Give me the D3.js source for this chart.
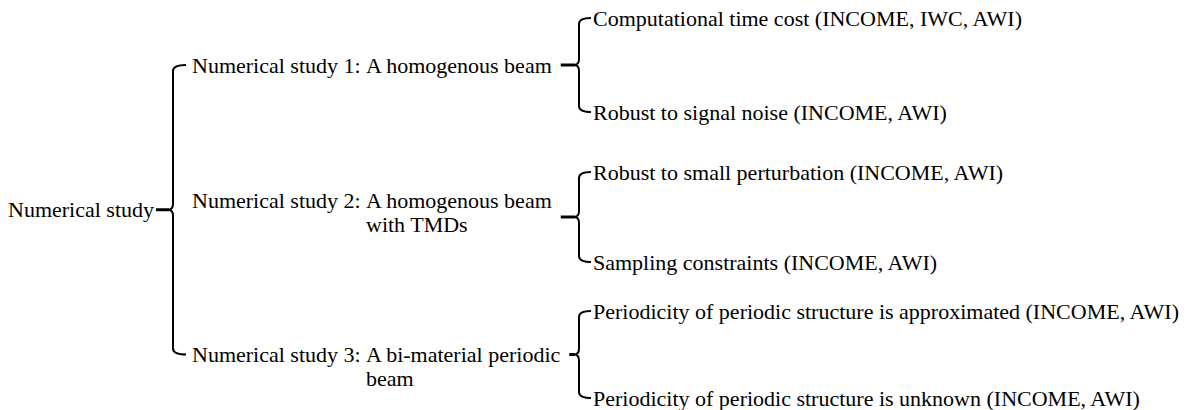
<!DOCTYPE html>
<html>
<head>
<meta charset="utf-8">
<script src="https://cdn.jsdelivr.net/npm/d3@7"></script>
<style>
  body { margin: 0; background: #fff; }
  text { font-family: "Liberation Serif", "Times New Roman", serif; fill: #000; }
</style>
</head>
<body>
<div id="tree"></div>
<script>
// diagram content
const rootLabel = "Numerical study";
const studyPrefixes = ["Numerical study 1:", "Numerical study 2:", "Numerical study 3:"];
const studyDescriptions = [
    ["A homogenous beam"],
    ["A homogenous beam", "with TMDs"],
    ["A bi-material periodic", "beam"]
];
const outcomes = [
    ["Computational time cost (INCOME, IWC, AWI)", "Robust to signal noise (INCOME, AWI)"],
    ["Robust to small perturbation (INCOME, AWI)", "Sampling constraints (INCOME, AWI)"],
    ["Periodicity of periodic structure is approximated (INCOME, AWI)", "Periodicity of periodic structure is unknown (INCOME, AWI)"]
];

const width = 1191;
const height = 410;
const fontSize = 22;
const lineGap = 24;

// vertical extent of each outcome group (top leaf, bottom leaf)
const groupSpans = [[18, 112], [172, 262], [311, 398]];
// where the first line of each study label sits relative to its stub
const firstLineShift = [0, -17, 0];

// x positions of the columns
const xRootText = 8, xRootBrace = 173;
const xStudyText = 192, xStudyDesc = 366, xLeafBrace = 579, xLeafText = 593;

const svg = d3.select("#tree").append("svg")
    .attr("width", width)
    .attr("height", height);

// a curly brace: vertical at x, from top to bottom, cusp pointing left at mid
function brace(x, top, bottom, mid, arm) {
    const r = 6;
    const p = d3.path();
    p.moveTo(x + arm, top);
    p.quadraticCurveTo(x, top, x, top + r);
    p.lineTo(x, mid - r);
    p.quadraticCurveTo(x, mid, x - 5, mid);
    p.quadraticCurveTo(x, mid, x, mid + r);
    p.lineTo(x, bottom - r);
    p.quadraticCurveTo(x, bottom, x + arm, bottom);
    return p.toString();
}

const studyY = groupSpans.map(s => (s[0] + s[1]) / 2);
const rootY = (studyY[0] + studyY[studyY.length - 1]) / 2;

// root
svg.append("text")
    .attr("x", xRootText)
    .attr("y", rootY)
    .attr("dy", "0.35em")
    .style("font-size", fontSize + "px")
    .text(rootLabel);

svg.append("line")
    .attr("x1", 156).attr("x2", xRootBrace - 4)
    .attr("y1", rootY).attr("y2", rootY)
    .attr("stroke", "#000").attr("stroke-width", 3);

svg.append("path")
    .attr("d", brace(xRootBrace, studyY[0], studyY[studyY.length - 1], rootY, 13))
    .attr("fill", "none").attr("stroke", "#000").attr("stroke-width", 2);

// studies
const studies = svg.selectAll(".study")
    .data(studyPrefixes.map((p, i) => ({ prefix: p, desc: studyDescriptions[i], leaves: outcomes[i], span: groupSpans[i] })))
    .enter().append("g")
    .attr("class", "study");

studies.each(function(d, i) {
    const g = d3.select(this);
    const yc = studyY[i];
    const y0 = yc + firstLineShift[i];

    g.append("text")
        .attr("x", xStudyText)
        .attr("y", y0)
        .attr("dy", "0.35em")
        .style("font-size", fontSize + "px")
        .text(d.prefix);

    const desc = g.append("text")
        .style("font-size", fontSize + "px");
    desc.selectAll("tspan")
        .data(d.desc)
        .enter().append("tspan")
        .attr("x", xStudyDesc)
        .attr("y", (t, j) => y0 + j * lineGap)
        .attr("dy", "0.35em")
        .text(t => t);

    // stub from end of the first description line to the brace
    const endX = xStudyDesc + desc.select("tspan").node().getComputedTextLength();
    g.append("line")
        .attr("x1", endX + 9).attr("x2", xLeafBrace - 4)
        .attr("y1", yc).attr("y2", yc)
        .attr("stroke", "#000").attr("stroke-width", 3);

    const yLeaf = d3.scaleLinear()
        .domain([0, d.leaves.length - 1])
        .range(d.span);

    g.append("path")
        .attr("d", brace(xLeafBrace, d.span[0], d.span[1], yc, 12))
        .attr("fill", "none").attr("stroke", "#000").attr("stroke-width", 2);

    g.selectAll(".leaf")
        .data(d.leaves)
        .enter().append("text")
        .attr("class", "leaf")
        .attr("x", xLeafText)
        .attr("y", (t, j) => yLeaf(j))
        .attr("dy", "0.35em")
        .style("font-size", fontSize + "px")
        .text(t => t);
});
</script>
</body>
</html>
